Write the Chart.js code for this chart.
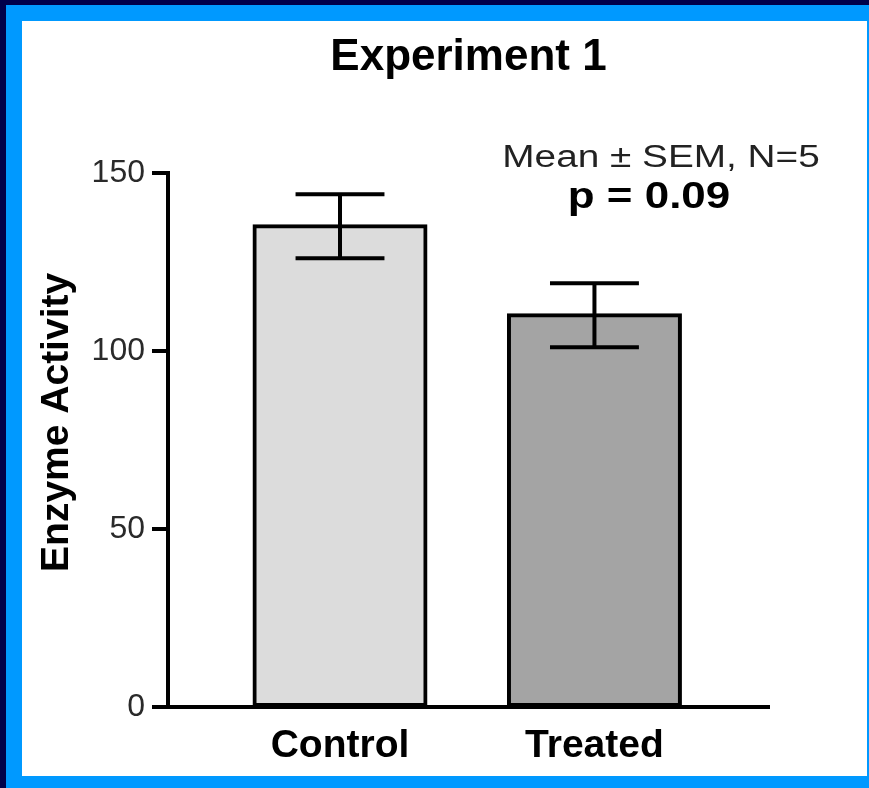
<!DOCTYPE html>
<html>
<head>
<meta charset="utf-8">
<script src="https://cdn.jsdelivr.net/npm/chart.js@4.4.1/dist/chart.umd.min.js"></script>
<style>
  html, body { margin: 0; padding: 0; }
  body { width: 869px; height: 788px; background: #00004a; position: relative; overflow: hidden; }
  #frame { position: absolute; left: 6px; top: 5px; width: 863px; height: 783px; background: #0099ff; }
  #panel { position: absolute; left: 22px; top: 21px; width: 845px; height: 755px; background: #ffffff; }
  canvas { display: block; }
</style>
</head>
<body>
<div id="frame"></div>
<div id="panel"><canvas id="chart" width="845" height="755"></canvas></div>
<script>
// Group means and standard errors
const categories = ['Control', 'Treated'];
const means = [135, 110];
const sems = [9, 9];
const yTicks = [0, 50, 100, 150];
const chartTitle = 'Experiment 1';
const yAxisTitle = 'Enzyme Activity';
const statsNote = 'Mean \u00b1 SEM, N=5';
const pValueNote = 'p = 0.09';

const FONT = '"Liberation Sans", Arial, Helvetica, sans-serif';

// Vertical SEM whiskers with caps, drawn on top of each bar
const errorBars = {
  id: 'errorBars',
  afterDatasetsDraw(chart) {
    const meta = chart.getDatasetMeta(0);
    const y = chart.scales.y;
    const c = chart.ctx;
    c.save();
    c.strokeStyle = '#000';
    c.lineWidth = 4;
    c.lineCap = 'butt';
    meta.data.forEach((bar, i) => {
      const x = bar.x;
      const half = bar.width * 0.26;
      const yTop = y.getPixelForValue(means[i] + sems[i]);
      const yBot = y.getPixelForValue(means[i] - sems[i]);
      c.beginPath();
      c.moveTo(x, yTop); c.lineTo(x, yBot);
      c.moveTo(x - half, yTop); c.lineTo(x + half, yTop);
      c.moveTo(x - half, yBot); c.lineTo(x + half, yBot);
      c.stroke();
    });
    c.restore();
  }
};

// Draws text horizontally widened around its centre point
function wideText(c, text, x, y, font, color, stretch) {
  c.save();
  c.font = font;
  c.fillStyle = color;
  c.textAlign = 'center';
  c.textBaseline = 'alphabetic';
  c.translate(x, y);
  c.scale(stretch, 1);
  c.fillText(text, 0, 0);
  c.restore();
}

// Axis title and the statistics notes
const notes = {
  id: 'notes',
  afterDraw(chart) {
    const c = chart.ctx;
    const area = chart.chartArea;

    // rotated y-axis title
    c.save();
    c.fillStyle = '#000';
    c.textAlign = 'center';
    c.textBaseline = 'alphabetic';
    c.translate(area.left - 100, (area.top + area.bottom) / 2 - 17.5);
    c.rotate(-Math.PI / 2);
    c.font = 'bold 39px ' + FONT;
    c.fillText(yAxisTitle, 0, 0);
    c.restore();

    wideText(c, statsNote, area.right - 108, area.top - 6, '31px ' + FONT, '#222', 1.25);
    wideText(c, pValueNote, area.right - 120, area.top + 35, 'bold 36px ' + FONT, '#000', 1.22);
  }
};

new Chart(document.getElementById('chart').getContext('2d'), {
  type: 'bar',
  data: {
    datasets: [{
      data: means.map((m, i) => ({ x: i, y: m })),
      backgroundColor: ['#dcdcdc', '#a4a4a4'],
      borderColor: '#000',
      borderWidth: 4,
      borderSkipped: false,
      inflateAmount: 2,
      barPercentage: 0.672,
      categoryPercentage: 1
    }]
  },
  options: {
    responsive: false,
    animation: false,
    events: [],
    layout: { padding: { left: 0, right: 98, top: 0, bottom: 0 } },
    plugins: {
      legend: { display: false },
      tooltip: { enabled: false },
      title: {
        display: true,
        fullSize: false,
        text: chartTitle,
        color: '#000',
        font: { family: FONT, size: 44, weight: 'bold' },
        padding: { top: 10, bottom: 89 }
      }
    },
    scales: {
      x: {
        type: 'linear',
        offset: false,
        min: -0.676,
        max: 1.686,
        afterBuildTicks: s => { s.ticks = categories.map((_, i) => ({ value: i })); },
        ticks: {
          callback: v => categories[v] ?? '',
          font: { family: FONT, size: 39, weight: 'bold' },
          color: '#000',
          padding: 16,
          maxRotation: 0,
          autoSkip: false
        },
        grid: { display: false, drawTicks: false, offset: false },
        border: { display: true, color: '#000', width: 4 },
        afterFit: s => { s.height = 69; }
      },
      y: {
        min: 0,
        max: 150,
        afterBuildTicks: s => { s.ticks = yTicks.map(v => ({ value: v })); },
        ticks: {
          font: { family: FONT, size: 32 },
          color: '#2a2a2a',
          padding: 7
        },
        grid: {
          drawOnChartArea: false,
          drawTicks: true,
          tickLength: 16,
          color: '#000',
          lineWidth: 4
        },
        border: { display: true, color: '#000', width: 4 },
        afterFit: s => { s.width = 146; }
      }
    }
  },
  plugins: [errorBars, notes]
});
</script>
</body>
</html>
